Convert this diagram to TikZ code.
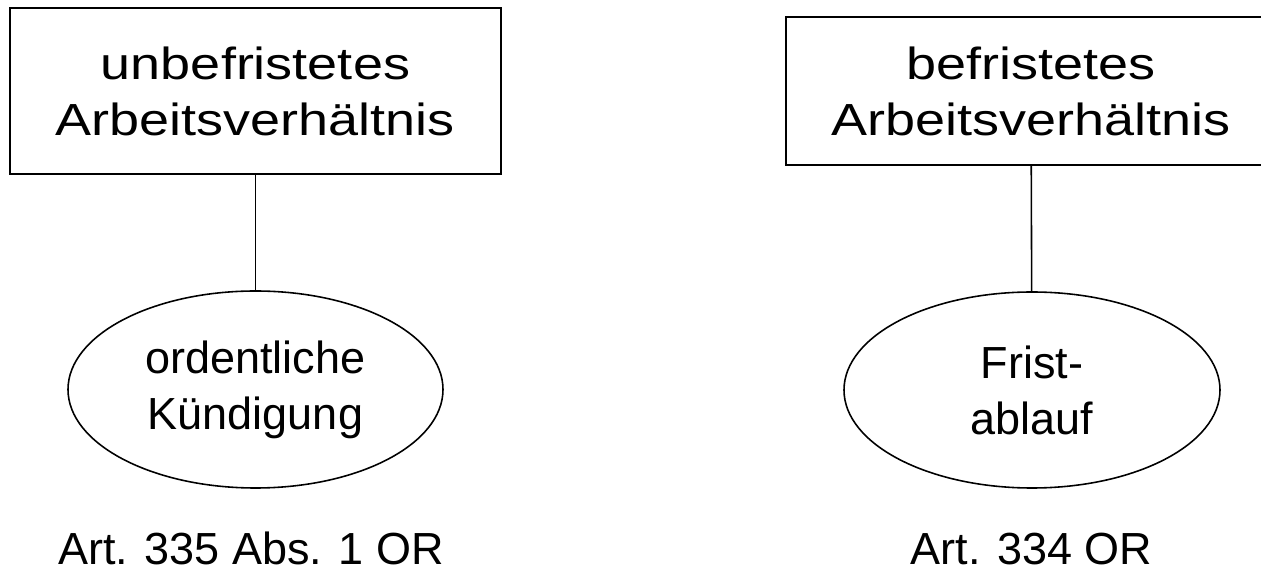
\documentclass[tikz,border=0pt]{standalone}
\usepackage{fontspec}
\setmainfont{Liberation Sans}
\newfontfamily\boxfont[FakeStretch=1.2]{Liberation Sans}
\usetikzlibrary{shapes}

\begin{document}
\begin{tikzpicture}[
            vertrag/.style={draw,rectangle,line width=1pt,align=center,inner sep=0pt,
                            font=\boxfont\fontsize{25.6}{31.9}\selectfont},
            beendigung/.style={draw,ellipse,line width=.9pt,align=center,inner sep=0pt,
                            font=\fontsize{25.6}{31.9}\selectfont},
            lab/.style={anchor=base,inner sep=0pt,font=\fontsize{25.6}{31.9}\selectfont},
            every edge/.style={draw,line width=.9pt}
          ]
          \useasboundingbox (0,0) rectangle (25.22,-11.5);

          %contracts
          \node[vertrag,minimum width=9.82cm,minimum height=3.32cm] (unbef) at (5.11,-1.82) {unbefristetes\\Arbeitsverh\"altnis};
          \node[vertrag,minimum width=9.8cm,minimum height=2.96cm] (bef) at (20.62,-1.82) {befristetes\\Arbeitsverh\"altnis};

          %termination
          \node[beendigung,minimum width=7.5cm,minimum height=3.94cm] (ord) at (5.11,-7.79) {ordentliche\\K\"undigung};
          \node[beendigung,minimum width=7.52cm,minimum height=3.92cm] (frist) at (20.64,-7.8) {Frist-\\ablauf};

          %labels
          \node[lab] (art1) at (5.02,-11.3) {Art. 335 Abs. 1 OR};
          \node[lab] (art2) at (20.63,-11.3) {Art. 334 OR};

          \path
          (unbef) edge (ord)
          (bef) edge (frist)
          ;

      \end{tikzpicture}
\end{document}
